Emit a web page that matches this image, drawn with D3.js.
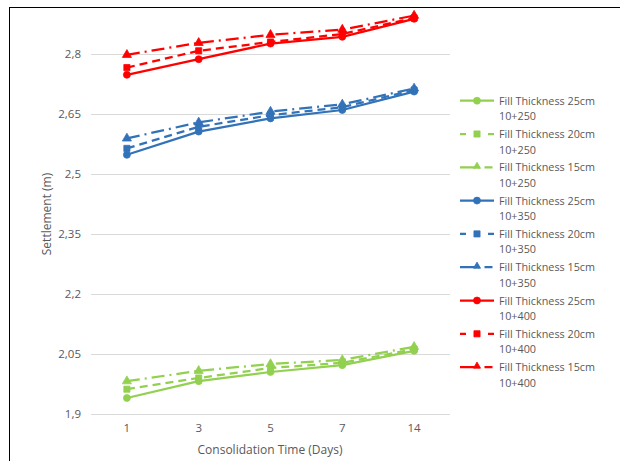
<!DOCTYPE html>
<html><head><meta charset="utf-8">
<script src="https://cdn.jsdelivr.net/npm/d3@7"></script>
<style>body{margin:0;background:#fff;}svg{display:block;}</style>
</head><body>
<svg id="chart" width="620" height="461"></svg>
<script>
const categories = ["1", "3", "5", "7", "14"];
const yTicks = [1.9, 2.05, 2.2, 2.35, 2.5, 2.65, 2.8];
const seriesNames = [
  ["Fill Thickness 25cm", "10+250"], ["Fill Thickness 20cm", "10+250"], ["Fill Thickness 15cm", "10+250"],
  ["Fill Thickness 25cm", "10+350"], ["Fill Thickness 20cm", "10+350"], ["Fill Thickness 15cm", "10+350"],
  ["Fill Thickness 25cm", "10+400"], ["Fill Thickness 20cm", "10+400"], ["Fill Thickness 15cm", "10+400"]
];
const g25_250 = [1.94, 1.982, 2.005, 2.022, 2.058];
const g20_250 = [1.962, 1.99, 2.015, 2.028, 2.062];
const g15_250 = [1.982, 2.008, 2.025, 2.035, 2.068];
const b25_350 = [2.548, 2.606, 2.639, 2.66, 2.706];
const b20_350 = [2.564, 2.618, 2.647, 2.667, 2.71];
const b15_350 = [2.589, 2.629, 2.656, 2.674, 2.714];
const r25_400 = [2.748, 2.787, 2.826, 2.843, 2.888];
const r20_400 = [2.766, 2.808, 2.83, 2.85, 2.89];
const r15_400 = [2.798, 2.828, 2.848, 2.861, 2.896];
const seriesValues = [g25_250, g20_250, g15_250, b25_350, b20_350, b15_350, r25_400, r20_400, r15_400];
const colors = ["#92D050", "#92D050", "#92D050", "#3272B8", "#3272B8", "#3272B8", "#FF0000", "#FF0000", "#FF0000"];
const dashes = [null, "8,5", "13,5,2,5"];
const markers = [d3.symbolCircle, d3.symbolSquare, d3.symbolTriangle];
const markerSizes = [38, 38, 36];
const legendSizes = [38, 38, 22];

const svg = d3.select("#chart");
const font = "'Open Sans', sans-serif";
const textColor = "#595959";

svg.append("rect").attr("x", 9.5).attr("y", 7.5).attr("width", 700).attr("height", 600)
  .attr("fill", "#fff").attr("stroke", "#000").attr("stroke-width", 1);

const x = d3.scaleBand().domain(categories).range([91, 450]);
const y = d3.scaleLinear().domain([1.9, 2.9]).range([414, 14]);

svg.append("g").selectAll("line").data(yTicks).join("line")
  .attr("x1", 91).attr("x2", 450)
  .attr("y1", d => Math.round(y(d)) + 0.5).attr("y2", d => Math.round(y(d)) + 0.5)
  .attr("stroke", "#d9d9d9").attr("stroke-width", 1);

const yAxis = d3.axisLeft(y).tickValues(yTicks).tickSize(0).tickPadding(0)
  .tickFormat(d => String(d).replace(".", ","));
const yg = svg.append("g").attr("transform", "translate(81,0)").call(yAxis);
yg.select(".domain").remove();
yg.selectAll("text").attr("font-family", font).attr("font-size", 11.5).attr("fill", textColor);

const xAxis = d3.axisBottom(x).tickSize(0).tickPadding(0);
const xg = svg.append("g").attr("transform", "translate(0,424)").call(xAxis);
xg.select(".domain").remove();
xg.selectAll("text").attr("font-family", font).attr("font-size", 11.5).attr("fill", textColor);

svg.append("text").attr("x", 270).attr("y", 454).attr("text-anchor", "middle")
  .attr("font-family", font).attr("font-size", 12).attr("fill", textColor)
  .text("Consolidation Time (Days)");
svg.append("text").attr("transform", "translate(51,214) rotate(-90)").attr("text-anchor", "middle")
  .attr("font-family", font).attr("font-size", 12).attr("fill", textColor)
  .text("Settlement (m)");

const line = d3.line().x((d, i) => x(categories[i]) + x.bandwidth() / 2).y(d => y(d));
seriesValues.forEach((vals, si) => {
  const k = si % 3;
  svg.append("path").datum(vals).attr("d", line).attr("fill", "none")
    .attr("stroke", colors[si]).attr("stroke-width", 2.25)
    .attr("stroke-dasharray", dashes[k]).attr("stroke-linejoin", "round");
  svg.append("g").selectAll("path").data(vals).join("path")
    .attr("d", d3.symbol().type(markers[k]).size(markerSizes[k]))
    .attr("transform", (d, i) => `translate(${x(categories[i]) + x.bandwidth() / 2},${y(d)})`)
    .attr("fill", colors[si]).attr("stroke", colors[si]).attr("stroke-width", 0.75);
});

const lg = svg.append("g");
seriesNames.forEach((nm, si) => {
  const k = si % 3;
  const cy = 100.7 + si * 33.3;
  const g = lg.append("g");
  const ln = g.append("line").attr("x1", 460).attr("x2", 494).attr("y1", cy).attr("y2", cy)
    .attr("stroke", colors[si]).attr("stroke-width", 2.25);
  if (k === 1) ln.attr("stroke-dasharray", "6,8.5,5,8.5,6");
  if (k === 2) ln.attr("stroke-dasharray", "16,2,1.5,5,8");
  g.append("path").attr("d", d3.symbol().type(markers[k]).size(legendSizes[k])())
    .attr("transform", `translate(477,${cy - (k === 2 ? 1 : 0)})`).attr("fill", colors[si]).attr("stroke", colors[si]).attr("stroke-width", 0.75);
  g.append("text").attr("x", 499).attr("y", cy + 4).attr("font-family", font).attr("font-size", 10.8)
    .attr("fill", textColor).text(nm[0]);
  g.append("text").attr("x", 499).attr("y", cy + 19.5).attr("font-family", font).attr("font-size", 10.8)
    .attr("fill", textColor).text(nm[1]);
});
</script>
</body></html>
